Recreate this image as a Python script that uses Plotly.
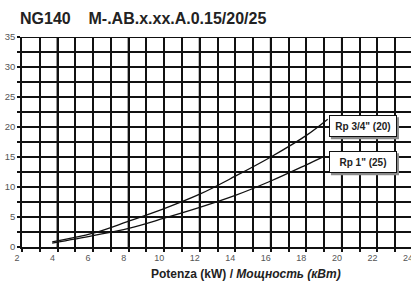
import plotly.graph_objects as go

# data
x_34 = [3.7, 6, 8, 10, 12, 14, 16, 18, 19.2]
y_34 = [0.85, 2.3, 4.3, 6.4, 8.8, 11.8, 15.0, 18.6, 21.3]
x_1 = [3.7, 6, 8, 10, 12, 14, 16, 18, 19.0]
y_1 = [0.65, 1.9, 3.1, 4.8, 6.6, 8.6, 11.0, 13.7, 15.1]
labels = ['Rp 3/4" (20)', 'Rp 1" (25)']
x_ticks = [2, 4, 6, 8, 10, 12, 14, 16, 18, 20, 22, 24]
y_ticks = [0, 5, 10, 15, 20, 25, 30, 35]
thick_x = [4, 8, 12, 16, 20]
thick_y = [15, 35]

W, H = 413, 282
L, T, B = 22.3, 36.7, 35.3
R = 0
PW = W - L - R
PH = H - T - B

def px(xp):
    return (xp - L) / PW

def py(yp):
    return (H - B - yp) / PH

FONT = "Liberation Sans, Arial, sans-serif"

fig = go.Figure()
for xs, ys in [(x_34, y_34), (x_1, y_1)]:
    fig.add_trace(go.Scatter(x=xs, y=ys, mode="lines",
                             line=dict(color="#111", width=1.3, shape="spline"),
                             showlegend=False, hoverinfo="skip"))

shapes = []
for v in thick_x:
    shapes.append(dict(type="line", xref="x", yref="paper", x0=v, x1=v, y0=0, y1=1,
                       line=dict(color="#111", width=2), layer="below"))
for v in thick_y:
    shapes.append(dict(type="line", xref="paper", yref="y", x0=0, x1=1, y0=v, y1=v,
                       line=dict(color="#111", width=2), layer="below"))

# label boxes geometry (pixels): centre x, centre y
box_cx = 363
box_cy = [126, 162]
box_w, box_h = 68, 22
for cy in box_cy:
    shapes.append(dict(type="rect", xref="paper", yref="paper",
                       x0=px(box_cx - box_w / 2 + 2), x1=px(box_cx + box_w / 2 + 2),
                       y0=py(cy + box_h / 2 + 2), y1=py(cy - box_h / 2 + 2),
                       fillcolor="#8a8a8a", line=dict(width=0), layer="above"))

tickfont = dict(family=FONT, size=9, color="#555")
grid = "#111"
fig.update_layout(
    width=W, height=H, margin=dict(l=L, r=R, t=T, b=B),
    paper_bgcolor="white", plot_bgcolor="white",
    shapes=shapes,
    xaxis=dict(range=[2, 24], tickvals=x_ticks, ticktext=[str(v) for v in x_ticks],
               showgrid=True, gridcolor=grid, gridwidth=1.5, zeroline=False,
               ticks="outside", ticklen=3, tickcolor=grid, tickwidth=1.5,
               showline=True, linecolor=grid, linewidth=1.5,
               minor=dict(dtick=1, showgrid=True, gridcolor=grid, gridwidth=1.5,
                          ticks="outside", ticklen=3, tickcolor=grid, tickwidth=1.5),
               tickfont=tickfont, ticklabelshift=-5, ticklabelstandoff=-2,
               ticklabeloverflow="allow"),
    yaxis=dict(range=[0, 35], tickvals=y_ticks, ticktext=[str(v) for v in y_ticks],
               showgrid=True, gridcolor=grid, gridwidth=1.5, zeroline=False,
               ticks="outside", ticklen=3, tickcolor=grid, tickwidth=1.5,
               showline=True, linecolor=grid, linewidth=1.5,
               minor=dict(dtick=2.5, showgrid=True, gridcolor=grid, gridwidth=1.5,
                          ticks="outside", ticklen=3, tickcolor=grid, tickwidth=1.5),
               tickfont=dict(family=FONT, size=9.5, color="#555"), ticklabelstandoff=0),
    title=dict(text="<b>NG140\u00a0\u00a0\u00a0\u00a0M-.AB.x.xx.A.0.15/20/25</b>",
               xref="container", yref="container", x=20 / W, xanchor="left",
               y=1 - 18 / H, yanchor="middle",
               font=dict(family=FONT, size=16, color="#222")),
)

for lab, cy in zip(labels, box_cy):
    fig.add_annotation(
        xref="paper", yref="paper", x=px(box_cx), y=py(cy), xanchor="center", yanchor="middle",
        showarrow=False, text="<b>" + lab + "</b>", width=box_w - 6, height=box_h - 6,
        borderpad=2, borderwidth=1, bgcolor="white", bordercolor="#111",
        font=dict(family=FONT, size=10, color="#222"))

fig.add_annotation(xref="paper", yref="paper", x=px(246), y=py(274), xanchor="center", yanchor="middle",
                   showarrow=False, text="<b>Potenza (kW) / <i>Мощность (кВт)</i></b>",
                   font=dict(family=FONT, size=12, color="#222"))

fig.write_html("out.html", config={"displayModeBar": False},
               post_script="document.body.style.overflow='hidden';document.body.style.margin='0';")
